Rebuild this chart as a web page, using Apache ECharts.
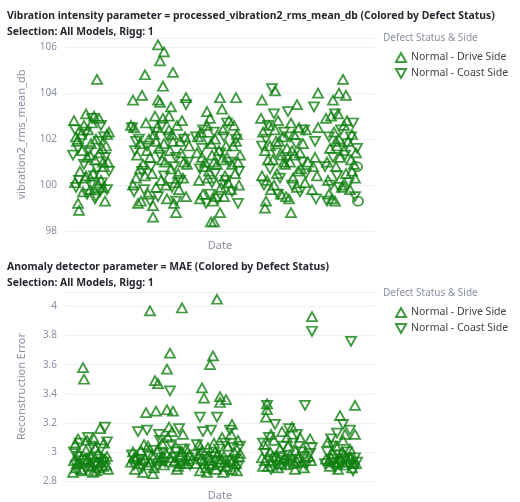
<!DOCTYPE html>
<html>
<head>
<meta charset="utf-8">
<script src="https://cdn.jsdelivr.net/npm/echarts@6/dist/echarts.min.js"></script>
<style>
  html, body { margin: 0; padding: 0; background: #fff; }
  #main { width: 520px; height: 502px; }
</style>
</head>
<body>
<div id="main"></div>
<script>
// x values are just a horizontal jitter position (dates are not labelled)
var vibDrive = [
  [74,102.8],[76,102.1],[79,98.9],[78,99.2],[82,101.5],[84,102.6],[86,103.1],[88,102.4],[91,101.8],[93,100.5],[95,101.1],[97,104.6],[99,102.9],[101,100.2],[103,99.9],[105,99.3],[107,102.2],[108,101.0],[75,100.1],[80,100.6],[85,100.3],[90,99.8],[96,102.0],[100,101.4],[104,100.8],[109,102.3],[77,101.9],[83,99.7],[87,101.2],[94,103.0],[98,100.0],[106,101.7],[81,102.2],[92,102.7],[102,101.6],
  [158,106.1],[164,105.8],[160,105.4],[145,104.8],[173,104.9],[163,104.3],[133,103.7],[142,103.9],[158,103.7],[160,103.6],[171,103.4],[186,103.8],[155,103.0],[169,103.0],[153,98.6],[176,98.8],
  [131,102.6],[134,102.5],[136,100.3],[138,99.2],[140,101.8],[143,100.9],[146,102.7],[148,99.6],[150,101.2],[152,100.5],[154,102.2],[156,99.9],[159,101.6],[161,100.2],[163,102.9],[165,101.0],[167,99.4],[169,102.4],[171,100.7],[173,101.9],[175,100.1],[177,102.6],[179,99.8],[181,101.4],[183,100.3],[185,102.1],[187,100.9],[189,101.7],[133,100.0],[137,101.3],[141,99.3],[145,100.4],[149,102.0],[153,99.1],[157,102.5],[162,101.1],[166,100.0],[170,101.5],[174,99.2],[178,100.5],[182,102.8],[186,99.5],
  [220,103.8],[236,103.8],[222,103.3],[207,103.2],[214,98.4],[211,98.4],[220,98.8],
  [197,101.4],[199,100.2],[201,102.3],[203,99.6],[205,101.0],[207,102.6],[209,100.6],[211,101.8],[213,99.3],[215,102.0],[217,100.9],[219,101.5],[221,99.9],[223,102.4],[225,100.4],[227,101.2],[229,102.8],[231,99.8],[233,101.7],[235,100.5],[237,102.2],[239,100.0],[198,102.1],[204,100.8],[210,102.9],[216,99.5],[222,101.1],[228,100.1],[234,102.6],[240,101.3],[200,99.4],[212,101.3],[224,99.5],[236,101.9],
  [262,103.7],[275,104.1],[297,103.5],[318,104.0],[265,99.0],[291,98.8],
  [261,102.9],[263,102.3],[265,101.5],[267,100.2],[269,102.6],[271,99.8],[273,101.1],[275,102.4],[277,100.5],[279,101.9],[281,99.6],[283,102.1],[285,100.9],[287,101.6],[289,99.4],[291,102.7],[293,100.3],[295,101.3],[297,99.9],[299,102.5],[301,100.7],[303,101.8],[305,100.1],[308,101.0],[312,99.8],[315,101.2],[317,100.4],[262,100.4],[266,99.3],[270,101.7],[274,100.0],[278,102.8],[282,101.3],[286,99.5],[290,101.0],[294,102.2],[298,100.6],[318,102.5],[313,100.8],
  [343,104.6],[339,104.0],[346,103.9],[333,103.7],
  [326,102.9],[328,100.2],[330,101.6],[332,99.4],[334,102.3],[336,100.8],[338,103.1],[340,101.2],[342,99.9],[344,102.6],[346,100.5],[348,101.9],[350,99.8],[352,102.2],[354,100.9],[356,101.4],[327,101.0],[331,103.0],[335,99.3],[339,102.0],[343,100.0],[347,102.8],[351,101.1],[355,100.3],[329,99.6],[337,101.7],
  [86,100.4],[90,101.3],[103,101.0],[140,100.7],[147,101.5],[156,101.9],[164,101.8],[172,102.2],[180,101.9],[184,101.0],[202,101.2],[208,100.3],[214,101.0],[226,101.7],[232,100.9],[238,101.0],[268,101.1],[276,101.9],[284,101.0],[292,101.5],[300,101.4],[306,102.4],[336,101.9],[344,101.5],[352,100.6]
];
var vibCoast = [
  [73,101.3],[76,99.9],[79,100.2],[82,102.0],[84,100.9],[87,99.6],[89,101.5],[92,102.9],[94,100.4],[96,99.5],[99,101.9],[102,100.1],[104,102.1],[107,99.8],[109,100.6],[78,101.6],[86,102.3],[91,100.0],[97,100.7],[101,102.6],[105,101.2],[75,102.4],[95,99.4],[100,99.7],
  [132,102.5],[135,101.5],[139,102.0],[142,100.6],[144,99.8],[147,101.7],[151,100.8],[155,102.3],[158,99.5],[160,101.3],[164,100.4],[168,102.1],[172,99.9],[176,101.2],[180,100.2],[184,102.0],[188,101.0],[134,99.7],[150,99.3],[162,102.6],[174,100.8],[186,103.5],[176,99.3],[136,101.9],
  [196,102.1],[200,100.7],[202,101.6],[206,99.2],[208,101.9],[212,100.1],[214,102.3],[218,99.4],[220,101.4],[224,102.1],[226,100.2],[230,101.0],[232,99.7],[236,102.0],[238,99.2],[203,102.4],[215,100.5],[227,102.7],[239,100.6],[210,99.6],[222,100.0],
  [262,101.7],[264,100.0],[268,102.6],[270,100.7],[272,104.2],[274,103.1],[276,101.4],[280,100.3],[284,102.3],[286,101.1],[288,103.2],[292,100.0],[296,101.8],[300,99.7],[304,102.4],[306,100.5],[314,103.4],[315,101.9],[316,99.4],[266,102.0],[278,99.6],[290,102.1],[302,101.0],
  [325,100.8],[327,99.3],[329,102.1],[333,101.2],[335,103.1],[337,100.4],[341,102.4],[345,101.3],[349,100.1],[353,102.7],[357,101.6],[331,100.0],[339,99.9],[347,101.8],[351,102.1],[355,99.5]
];
var vibOther = [[358,99.3],[357,100.8]];

var maeDrive = [
  [73,2.86],[75,3.05],[77,2.92],[79,2.98],[81,2.88],[83,3.58],[84,3.5],[85,2.95],[87,3.08],[89,2.90],[91,2.97],[93,2.86],[95,3.03],[97,2.93],[99,2.89],[100,3.16],[102,2.96],[104,3.06],[106,2.91],[108,2.88],[74,2.94],[78,3.09],[82,2.87],[86,3.01],[90,2.93],[94,3.09],[98,2.99],[103,2.90],[107,2.97],[76,2.89],[88,2.95],[96,2.87],
  [131,2.93],[133,3.00],[135,2.88],[137,2.97],[139,2.92],[141,3.01],[143,2.86],[145,2.95],[146,3.27],[148,3.04],[150,3.97],[150,2.93],[152,2.98],[154,2.89],[155,3.49],[156,3.28],[158,3.47],[158,3.02],[160,2.94],[162,3.06],[164,2.91],[166,2.99],[167,3.57],[167,3.29],[168,3.10],[170,3.68],[170,2.96],[172,3.14],[173,3.28],[174,2.93],[176,3.03],[178,2.90],[180,2.97],[182,3.99],[182,3.00],[183,3.12],[185,2.94],[187,2.92],[189,2.98],[136,2.95],[144,3.05],[153,2.85],[161,2.96],[169,3.17],[177,2.88],[186,3.02],
  [196,2.92],[198,2.98],[200,2.87],[202,3.44],[202,3.01],[204,3.37],[204,2.94],[206,2.89],[208,3.03],[210,3.6],[210,2.96],[212,2.91],[213,3.66],[214,3.06],[216,2.88],[217,4.05],[218,2.99],[220,3.38],[220,3.34],[220,2.93],[222,3.10],[224,2.97],[226,3.36],[226,2.90],[228,3.04],[230,2.95],[232,3.19],[232,2.88],[234,3.00],[236,2.92],[238,3.08],[239,2.97],[199,3.05],[207,2.86],[215,3.00],[223,2.86],[231,3.12],[237,2.87],
  [262,2.96],[264,3.05],[266,3.24],[267,3.33],[267,3.29],[268,2.90],[270,3.00],[272,2.93],[274,3.08],[276,2.97],[278,2.89],[280,3.02],[282,3.14],[284,2.95],[286,2.91],[288,3.04],[290,2.98],[292,3.17],[294,2.92],[296,3.01],[298,2.96],[300,3.10],[302,2.93],[304,2.89],[310,3.09],[312,3.93],[311,2.94],[263,2.90],[271,3.12],[279,2.95],[287,3.10],[295,2.88],[303,3.03],[309,2.97],
  [326,2.95],[328,3.07],[330,2.90],[332,2.99],[334,2.93],[336,3.04],[338,2.88],[340,3.25],[340,2.96],[342,3.00],[344,2.91],[345,3.12],[346,2.97],[348,2.93],[350,3.02],[352,2.89],[354,2.95],[355,3.32],[356,2.92],[355,3.12],[329,2.94],[337,2.92],[343,3.08],[351,2.96],
  [80,2.93],[92,2.91],[101,2.93],[105,2.95],[134,2.96],[142,2.94],[148,2.91],[157,2.95],[163,2.97],[175,2.94],[181,2.92],[188,2.95],[201,2.95],[209,2.92],[219,2.95],[225,2.93],[233,2.94],[240,2.99],[265,2.94],[273,2.97],[281,2.92],[289,2.94],[297,2.93],[305,2.96],[331,2.96],[339,2.93],[347,2.95],[353,2.92]
];
var maeCoast = [
  [74,3.00],[76,2.91],[80,3.06],[82,2.94],[86,2.88],[88,3.10],[90,2.96],[92,3.04],[96,2.92],[98,2.87],[101,3.02],[104,2.93],[105,3.17],[107,3.07],[78,2.97],[94,2.90],[100,2.95],
  [132,2.98],[134,2.91],[138,3.14],[140,2.95],[142,2.89],[147,3.15],[149,2.97],[153,3.01],[157,2.90],[159,3.12],[163,2.99],[165,2.93],[170,3.42],[171,3.05],[175,2.96],[179,3.16],[181,2.92],[184,3.02],[188,2.96],[190,2.91],[144,2.92],[160,3.08],[176,3.00],
  [195,2.98],[197,3.05],[200,3.24],[201,2.93],[203,3.14],[205,2.99],[209,2.88],[211,3.15],[215,2.94],[217,3.24],[219,3.02],[221,2.89],[225,3.06],[227,2.94],[229,2.87],[233,3.03],[235,2.95],[238,2.90],[240,3.04],[212,2.97],[230,3.15],
  [263,3.06],[265,2.99],[267,3.32],[269,3.10],[273,2.95],[275,3.19],[277,2.90],[281,2.97],[283,3.04],[285,2.92],[289,3.16],[291,2.95],[293,3.06],[297,3.12],[299,2.93],[301,3.00],[305,3.32],[306,2.91],[310,2.99],[312,3.83],[312,3.03],[271,2.88],[287,2.94],
  [325,2.92],[327,3.00],[331,3.09],[333,2.95],[335,2.89],[337,3.13],[339,2.98],[341,2.93],[343,3.19],[347,3.00],[349,2.91],[350,3.15],[351,3.76],[353,2.87],[355,2.96],[357,2.93],[345,2.95],[333,3.04]
];

var green = '#108010';
var upIcon = 'path://M5,0 L10,9 L0,9 Z';
var downIcon = 'path://M0,0 L10,0 L5,9 Z';
var font = '"Noto Sans", sans-serif';

var chart = echarts.init(document.getElementById('main'), null, { renderer: 'canvas' });

function yAxisCfg(idx, name, min, max, interval, gap) {
  return {
    gridIndex: idx, type: 'value', min: min, max: max, interval: interval,
    name: name, nameLocation: 'middle', nameGap: gap,
    nameTextStyle: { color: '#8a8fa3', fontSize: 11, fontFamily: font },
    axisLine: { show: false }, axisTick: { show: false },
    axisLabel: { color: '#8a8fa3', fontSize: 10, fontFamily: font,
      showMaxLabel: false, formatter: function (v) { return +v.toFixed(1); } },
    splitLine: { lineStyle: { color: '#eceef3', width: 1 } }
  };
}
function xAxisCfg(idx) {
  return {
    gridIndex: idx, type: 'value', min: 65, max: 375,
    name: 'Date', nameLocation: 'middle', nameGap: 9,
    nameTextStyle: { color: '#8a8fa3', fontSize: 11, fontFamily: font },
    axisLine: { show: false }, axisTick: { show: false },
    axisLabel: { show: false }, splitLine: { show: false }
  };
}
function pts(name, data, x, icon, symbol) {
  return {
    name: name, type: 'scatter', xAxisIndex: x, yAxisIndex: x,
    data: data, symbol: symbol || icon, symbolSize: [10, 9],
    itemStyle: { color: 'rgba(255,255,255,0)', borderColor: green, borderWidth: 1.8 }
  };
}

var option = {
  animation: false,
  textStyle: { fontFamily: font },
  title: [
    { text: 'Vibration intensity parameter = processed_vibration2_rms_mean_db (Colored by Defect Status)\nSelection: All Models, Rigg: 1',
      left: 2, top: 3, textStyle: { fontSize: 10.4, fontWeight: 'bold', color: '#262730', lineHeight: 16, fontFamily: font } },
    { text: 'Anomaly detector parameter = MAE (Colored by Defect Status)\nSelection: All Models, Rigg: 1',
      left: 2, top: 254, textStyle: { fontSize: 10.4, fontWeight: 'bold', color: '#262730', lineHeight: 16, fontFamily: font } }
  ],
  graphic: [
    { type: 'text', left: 383, top: 33, style: { text: 'Defect Status & Side', fill: '#8a8fa3', font: '10px ' + font } },
    { type: 'text', left: 383, top: 288, style: { text: 'Defect Status & Side', fill: '#8a8fa3', font: '10px ' + font } }
  ],
  legend: [
    { orient: 'vertical', left: 390, top: 47, itemGap: 5, itemWidth: 10, itemHeight: 9,
      textStyle: { color: '#444', fontSize: 10.5, fontFamily: font },
      data: [{ name: 'Normal - Drive Side', icon: upIcon }, { name: 'Normal - Coast Side', icon: downIcon }] },
    { orient: 'vertical', left: 390, top: 302, itemGap: 5, itemWidth: 10, itemHeight: 9,
      textStyle: { color: '#444', fontSize: 10.5, fontFamily: font },
      data: [{ name: 'Normal - Drive Side ', icon: upIcon }, { name: 'Normal - Coast Side ', icon: downIcon }] }
  ],
  grid: [
    { left: 65, right: 145, top: 38, height: 193 },
    { left: 65, right: 145, top: 292, height: 190 }
  ],
  xAxis: [xAxisCfg(0), xAxisCfg(1)],
  yAxis: [
    yAxisCfg(0, 'vibration2_rms_mean_db', 98, 106.4, 2, 38),
    yAxisCfg(1, 'Reconstruction Error', 2.8, 4.1, 0.2, 38)
  ],
  series: [
    pts('Normal - Drive Side', vibDrive, 0, upIcon),
    pts('Normal - Coast Side', vibCoast, 0, downIcon),
    pts('Other', vibOther, 0, 'circle', 'circle'),
    pts('Normal - Drive Side ', maeDrive, 1, upIcon),
    pts('Normal - Coast Side ', maeCoast, 1, downIcon)
  ]
};
chart.setOption(option);
</script>
</body>
</html>
